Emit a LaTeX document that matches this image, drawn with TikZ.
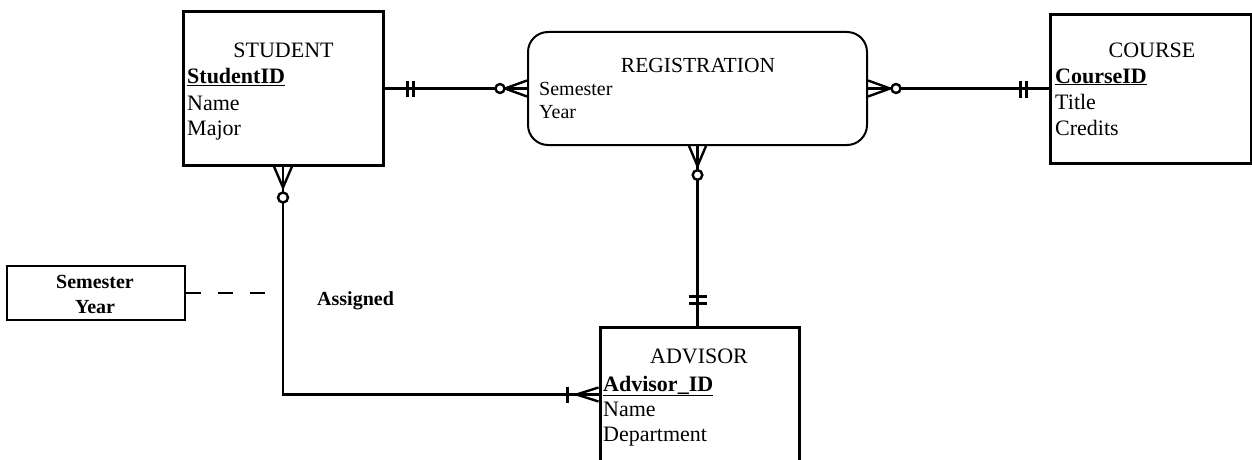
\documentclass[tikz,border=0pt]{standalone}
\usepackage{fontspec}
\setmainfont{Liberation Serif}
\usetikzlibrary{calc}
\begin{document}
\begin{tikzpicture}[x=1pt,y=-1pt,
  entity/.style={draw, line width=3pt, rectangle, inner sep=0pt},
  relbox/.style={draw, line width=2pt, rectangle, rounded corners=20pt, inner sep=0pt},
  smallbox/.style={draw, line width=2pt, rectangle, inner sep=0pt},
  txt/.style={inner sep=0pt, anchor=base west, font=\fontsize{22}{26}\selectfont},
  rtxt/.style={inner sep=0pt, anchor=base west, font=\fontsize{20}{24}\selectfont},
  ttl/.style={inner sep=0pt, anchor=base, font=\fontsize{22}{26}\selectfont},
  keytxt/.style={inner sep=0pt, anchor=base west, font=\fontsize{22}{26}\selectfont\bfseries},
  boldsm/.style={inner sep=0pt, anchor=base, font=\fontsize{20}{22}\selectfont\bfseries},
  conn/.style={line width=2.8pt},
  crow/.style={line width=2.4pt},
  ring/.style={line width=2.4pt, fill=white},
]
\useasboundingbox (0,0) rectangle (1252,460);
\clip (0,0) rectangle (1252,460);

% entities
\node[entity, minimum width=200pt, minimum height=153pt] (student) at (283,88.5) {};
\node[entity, minimum width=201pt, minimum height=148pt] (course) at (1150.5,89) {};
\node[relbox, minimum width=339pt, minimum height=113pt] (registration) at (697.5,88.5) {};
\node[entity, minimum width=199pt, minimum height=170pt] (advisor) at (699.5,412) {};
\node[smallbox, minimum width=178pt, minimum height=54pt] (semester) at (96,293) {};

% texts
\node[ttl] (studentT) at (283.5,57) {STUDENT};
\node[keytxt] (studentK) at (187,84) {\underline{StudentID}};
\node[txt] (studentA1) at (187,110) {Name};
\node[txt] (studentA2) at (187,135) {Major};

\node[ttl] (courseT) at (1152,57) {COURSE};
\node[keytxt] (courseK) at (1055,83) {\underline{CourseID}};
\node[txt] (courseA1) at (1055,109) {Title};
\node[txt] (courseA2) at (1055,135) {Credits};

\node[ttl, font=\fontsize{21.5}{24}\selectfont] (regT) at (698,73) {REGISTRATION};
\node[rtxt] (regA1) at (539,95) {Semester};
\node[rtxt] (regA2) at (539,118) {Year};

\node[ttl] (advT) at (699,363) {ADVISOR};
\node[keytxt] (advK) at (603,391) {\underline{Advisor\_ID}};
\node[txt] (advA1) at (603,416) {Name};
\node[txt] (advA2) at (603,441) {Department};

\node[boldsm] (semT1) at (95,288) {Semester};
\node[boldsm] (semT2) at (95,313) {Year};
\node[boldsm, anchor=base west] (assigned) at (317,305) {Assigned};

% STUDENT -- REGISTRATION
\draw[conn] (student.east) -- (registration.west);
\draw[conn] ($(student.east)+(23,-8)$) -- ++(0,16);
\draw[conn] ($(student.east)+(29,-8)$) -- ++(0,16);
\draw[crow] ($(registration.west)+(0,-8)$) -- ($(registration.west)+(-22,0)$) -- ($(registration.west)+(0,8)$);
\draw[crow] ($(registration.west)+(-22,0)$) -- (registration.west);
\draw[ring] ($(registration.west)+(-27,0)$) circle (4.5pt);

% REGISTRATION -- COURSE
\coordinate (rc) at (registration.east -| course.west);
\draw[conn] (registration.east) -- (rc);
\draw[crow] ($(registration.east)+(0,-8)$) -- ($(registration.east)+(22,0)$) -- ($(registration.east)+(0,8)$);
\draw[ring] ($(registration.east)+(28,0)$) circle (4.5pt);
\draw[conn] ($(rc)+(-28,-8)$) -- ++(0,17);
\draw[conn] ($(rc)+(-22,-8)$) -- ++(0,17);

% REGISTRATION -- ADVISOR
\coordinate (ra) at (registration.south |- advisor.north);
\draw[conn] (registration.south) -- (ra);
\draw[crow] ($(registration.south)+(-8.5,0)$) -- ($(registration.south)+(0,20)$) -- ($(registration.south)+(8.5,0)$);
\draw[ring] ($(registration.south)+(0,29)$) circle (4.8pt);
\draw[conn] ($(ra)+(-9,-29)$) -- ++(18,0);
\draw[conn] ($(ra)+(-9,-22)$) -- ++(18,0);

% STUDENT -- ADVISOR (Assigned)
\coordinate (sa) at ($(advisor.north west)+(0,69)$);
\draw[conn] (student.south) -- (student.south |- sa) -- (sa);
\draw[crow] ($(student.south)+(-9,0)$) -- ($(student.south)+(0,21)$) -- ($(student.south)+(9,0)$);
\draw[ring] ($(student.south)+(0,31)$) circle (5pt);
\draw[conn] ($(sa)+(-31,-8)$) -- ++(0,16);
\draw[crow] ($(sa)+(0,-7)$) -- ($(sa)+(-22,0)$) -- ($(sa)+(0,7)$);

% associative attributes
\draw[line width=2.6pt, dash pattern=on 15pt off 17pt] (semester.east) -- (semester.east -| student.south);
\end{tikzpicture}
\end{document}
